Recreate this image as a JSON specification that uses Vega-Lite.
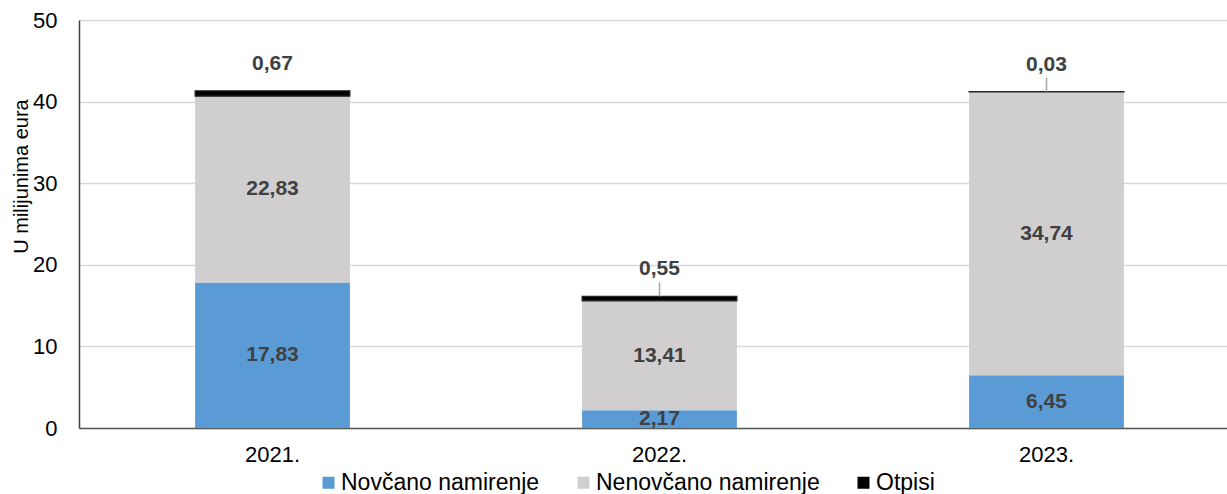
{
  "$schema": "https://vega.github.io/schema/vega-lite/v6.json",
  "autosize": {"type": "none"},
  "padding": {"left": 79, "top": 20, "right": 0, "bottom": 66},
  "width": 1161,
  "height": 408,
  "config": {
    "font": "Liberation Sans",
    "view": {"stroke": null},
    "locale": {"number": {"decimal": ",", "thousands": ".", "grouping": [3], "currency": ["", " €"]}}
  },
  "data": {
    "values": [
      {"year": "2021.", "cat": "Novčano namirenje", "ord": 1, "value": 17.83},
      {"year": "2021.", "cat": "Nenovčano namirenje", "ord": 2, "value": 22.83},
      {"year": "2021.", "cat": "Otpisi", "ord": 3, "value": 0.67},
      {"year": "2022.", "cat": "Novčano namirenje", "ord": 1, "value": 2.17},
      {"year": "2022.", "cat": "Nenovčano namirenje", "ord": 2, "value": 13.41},
      {"year": "2022.", "cat": "Otpisi", "ord": 3, "value": 0.55},
      {"year": "2023.", "cat": "Novčano namirenje", "ord": 1, "value": 6.45},
      {"year": "2023.", "cat": "Nenovčano namirenje", "ord": 2, "value": 34.74},
      {"year": "2023.", "cat": "Otpisi", "ord": 3, "value": 0.03}
    ]
  },
  "transform": [
    {"stack": "value", "groupby": ["year"], "sort": [{"field": "ord", "order": "ascending"}], "as": ["y0", "y1"]},
    {"calculate": "(datum.y0 + datum.y1) / 2", "as": "mid"}
  ],
  "encoding": {
    "x": {
      "field": "year", "type": "nominal", "sort": null,
      "scale": {"paddingInner": 0.6, "paddingOuter": 0.3},
      "axis": {"title": null, "labelAngle": 0, "labelFontSize": 22, "labelColor": "#000000", "ticks": false, "labelPadding": 16, "domainColor": "#595959", "domainWidth": 1.5}
    }
  },
  "layer": [
    {
      "mark": {"type": "bar"},
      "encoding": {
        "y": {
          "field": "y0", "type": "quantitative",
          "scale": {"domain": [0, 50], "nice": false},
          "axis": {
            "values": [0, 10, 20, 30, 40, 50], "title": "U milijunima eura", "titleFontSize": 20, "titleFontWeight": "normal", "titleColor": "#000000",
            "titleX": -58, "titleY": 156, "titleAngle": -90, "titleAlign": "center", "titleBaseline": "middle",
            "labelFontSize": 22, "labelColor": "#000000", "labelPadding": 22, "ticks": false,
            "domainColor": "#404040", "domainWidth": 1.5,
            "gridColor": "#D9D9D9", "gridWidth": 1.5
          }
        },
        "y2": {"field": "y1"},
        "color": {
          "field": "cat", "type": "nominal",
          "scale": {"domain": ["Novčano namirenje", "Nenovčano namirenje", "Otpisi"], "range": ["#5B9BD5", "#D0CECE", "#000000"]},
          "legend": {
            "title": null, "orient": "none", "direction": "horizontal", "legendX": 238, "legendY": 451,
            "symbolType": "square", "symbolSize": 144, "symbolStrokeWidth": 0, "labelFontSize": 23, "labelColor": "#000000",
            "labelOffset": 1, "columnPadding": 32, "labelLimit": 400
          }
        },
        "stroke": {
          "condition": {"test": "datum.cat === 'Otpisi'", "value": "#262626"},
          "value": null
        },
        "strokeWidth": {"condition": {"test": "datum.cat === 'Otpisi'", "value": 1.2}, "value": 0}
      }
    },
    {
      "transform": [{"filter": "datum.cat !== 'Otpisi'"}],
      "mark": {"type": "text", "fontSize": 21, "fontWeight": "bold", "color": "#404040", "baseline": "middle"},
      "encoding": {
        "y": {"field": "mid", "type": "quantitative"},
        "text": {"field": "value", "type": "quantitative", "format": ".2f"}
      }
    },
    {
      "transform": [{"filter": "datum.cat === 'Otpisi' && datum.year !== '2021.'"}],
      "mark": {"type": "rule", "color": "#A6A6A6", "strokeWidth": 1.5, "y2Offset": -14},
      "encoding": {
        "y": {"field": "y1", "type": "quantitative"},
        "y2": {"field": "y1"}
      }
    },
    {
      "transform": [{"filter": "datum.cat === 'Otpisi'"}],
      "mark": {"type": "text", "fontSize": 21, "fontWeight": "bold", "color": "#404040", "baseline": "middle", "dy": -27},
      "encoding": {
        "y": {"field": "y1", "type": "quantitative"},
        "text": {"field": "value", "type": "quantitative", "format": ".2f"}
      }
    }
  ]
}
